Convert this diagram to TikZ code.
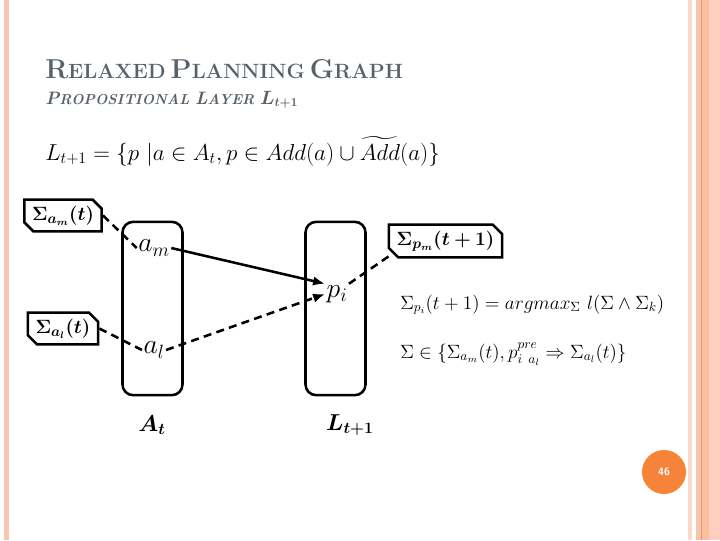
\documentclass[tikz,border=0pt]{standalone}
\usepackage{amsmath, amssymb, bm}
\usepackage{tikz}
\usetikzlibrary{arrows.meta,positioning,shapes.misc}
\usepackage{xcolor}

\definecolor{titlegray}{HTML}{59626B}
\definecolor{stripeA}{HTML}{F8C7B3}
\definecolor{stripeB}{HTML}{FBD8CA}
\definecolor{stripeC}{HTML}{F9C4AE}
\definecolor{stripeD}{HTML}{E39A78}
\definecolor{stripeE}{HTML}{FBBE9F}
\definecolor{stripeF}{HTML}{FFCEBF}
\definecolor{pageorange}{HTML}{F5843A}

\newcommand{\fsz}[1]{\fontsize{#1}{#1}\selectfont}
\newcommand{\capsc}[2]{{\fsz{20.5}#1}{\fsz{15.5}#2}}
\newcommand{\capsi}[2]{{\fsz{13.5}#1}{\fsz{10.8}#2}}

\begin{document}
\begin{tikzpicture}[x=0.75pt,y=-0.75pt,
    sigbox/.style={draw, line width=1.9pt, chamfered rectangle,
      chamfered rectangle corners={north east,south west},
      chamfered rectangle xsep=4pt, inner sep=1.8pt, font=\fsz{15}},
    layer/.style={draw, line width=1.9pt, rounded corners=8pt,
      minimum width=45pt, minimum height=130pt},
    item/.style={font=\fsz{21}, inner sep=1pt},
    link/.style={line width=1.9pt, dash pattern=on 6pt off 4pt},
    flow/.style={line width=1.9pt, -{Latex[length=9pt,width=7pt]}},
  ]
  \useasboundingbox (0,0) rectangle (720,540);

  % slide borders
  \fill[stripeA] (4,0) rectangle (9,540);
  \fill[stripeB] (688,0) rectangle (692,540);
  \fill[stripeC] (696,0) rectangle (701,540);
  \fill[stripeD] (701,0) rectangle (702,540);
  \fill[stripeE] (702,0) rectangle (709,540);
  \fill[stripeF] (709,0) rectangle (720,540);

  % headings
  \node[anchor=base west, inner sep=0, text=titlegray, font=\bfseries]
    (title) at (45,78) {\capsc{R}{ELAXED} \capsc{P}{LANNING} \capsc{G}{RAPH}};
  \node[anchor=base west, inner sep=0, text=titlegray, font=\bfseries\itshape]
    (subtitle) at (45,104) {\capsi{P}{ROPOSITIONAL} \capsi{L}{AYER} {\fsz{13.5}$\bm{L_{t+1}}$}};

  \node[anchor=base west, inner sep=0, font=\fsz{18}] (rule) at (45,160)
    {$L_{t+1} = \{p\ | a \in A_t, p \in Add(a) \cup \widetilde{Add}(a)\}$};

  % layers
  \node[layer] (layA) at (152.5,308.5) {};
  \node[layer] (layL) at (335.5,308.5) {};
  \node[font=\fsz{17}] (labA) at (152,425) {$\bm{A_t}$};
  \node[font=\fsz{17}] (labL) at (350,425) {$\bm{L_{t+1}}$};

  \node[item] (am) at (154,248) {$a_m$};
  \node[item] (al) at (154,350) {$a_l$};
  \node[item] (pi) at (337,294) {$p_i$};

  % labels of the nodes
  \node[sigbox] (Sam) at (63,215.5) {$\bm{\Sigma_{a_m}(t)}$};
  \node[sigbox] (Sal) at (63,328.5) {$\bm{\Sigma_{a_l}(t)}$};
  \node[sigbox] (Spm) at (445.5,241) {$\bm{\Sigma_{p_m}(t+1)}$};

  \draw[flow] (am.east) -- (pi.north west);
  \draw[flow, dash pattern=on 6pt off 4pt] (al.east) -- (pi.west);
  \draw[link] (Sam.east) -- (am.west);
  \draw[link] (Sal.east) -- (al.west);
  \draw[link] (pi.north east) -- (Spm.south west);

  \node[anchor=base west, inner sep=0, font=\fsz{14.5}] (best) at (400,309)
    {$\Sigma_{p_i}(t+1) = argmax_{\Sigma}\ l(\Sigma \wedge \Sigma_k)$};
  \node[anchor=base west, inner sep=0, font=\fsz{14.5}] (cand) at (400,358)
    {$\Sigma \in \{\Sigma_{a_m}(t), p_{i\ a_l}^{pre} \Rightarrow \Sigma_{a_l}(t)\}$};

  \node[circle, fill=pageorange, minimum size=33pt, inner sep=0,
    text=white, font=\sffamily\bfseries\fsz{8}] (page) at (664,472) {46};
\end{tikzpicture}
\end{document}
